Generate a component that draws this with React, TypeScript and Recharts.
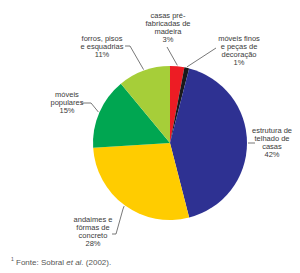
import React from "react";
import { PieChart, Pie, Cell } from "recharts";

const categories = [
  "casas pré-\nfabricadas de\nmadeira",
  "móveis finos\ne peças de\ndecoração",
  "estrutura de\ntelhado de\ncasas",
  "andaimes e\nfôrmas de\nconcreto",
  "móveis\npopulares",
  "forros, pisos\ne esquadrias",
];
const percentages = [3, 1, 42, 28, 15, 11];
const colors = ["#ED1C24", "#1A1A1A", "#2E3192", "#FFCC00", "#00A651", "#A6CE39"];

// label placement relative to pie centre
const labelLayout = [
  { tx: -2, ty: -128, pts: [[-3, -96]] },
  { tx: 69, ty: -105, pts: [[46, -95]] },
  { tx: 102, ty: -13, pts: [[85, 0]] },
  { tx: -77, ty: 76, pts: [[-47, 66], [-54, 91], [-58, 91]] },
  { tx: -103, ty: -49, pts: [[-79, -40], [-89, -40]] },
  { tx: -68, ty: -105, pts: [[-40, -97], [-45, -97]] },
];

const data = categories.map((name, i) => ({ name, value: percentages[i] }));

const RAD = Math.PI / 180;

const renderLabel = (props: any) => {
  const { cx, cy, midAngle, outerRadius, index } = props;
  const lay = labelLayout[index];
  const sx = cx + (outerRadius + 1) * Math.cos(-midAngle * RAD);
  const sy = cy + (outerRadius + 1) * Math.sin(-midAngle * RAD);
  const pts = [[sx, sy], ...lay.pts.map(([dx, dy]) => [cx + dx, cy + dy])];
  const lines = [...data[index].name.split("\n"), `${data[index].value}%`];
  const lh = 8.3;
  return (
    <g key={`lab-${index}`}>
      <polyline
        points={pts.map((p) => p.join(",")).join(" ")}
        fill="none"
        stroke="#555"
        strokeWidth={0.8}
      />
      {lines.map((t, j) => (
        <text
          key={j}
          x={cx + lay.tx}
          y={cy + lay.ty + j * lh}
          textAnchor="middle"
          dominantBaseline="central"
          fontSize={7.5}
          fill="#3a3a3a"
          fontFamily="Liberation Sans, Arial, sans-serif"
        >
          {t}
        </text>
      ))}
    </g>
  );
};

export default function App() {
  return (
    <div style={{ position: "absolute", left: 0, top: 0, width: 300, height: 273, background: "#fff" }}>
      <PieChart width={300} height={273}>
        <Pie
          data={data}
          dataKey="value"
          nameKey="name"
          cx={165}
          cy={138}
          outerRadius={77}
          startAngle={90}
          endAngle={-270}
          stroke="none"
          isAnimationActive={false}
          label={renderLabel}
          labelLine={false}
        >
          {data.map((d, i) => (
            <Cell key={d.name} fill={colors[i]} />
          ))}
        </Pie>
      </PieChart>
      <div
        style={{
          position: "absolute",
          left: 11,
          top: 256,
          fontSize: 8,
          color: "#555",
          fontFamily: "Liberation Sans, Arial, sans-serif",
          whiteSpace: "nowrap",
        }}
      >
        <sup style={{ fontSize: 5 }}>1</sup> Fonte: Sobral <i>et al.</i> (2002).
      </div>
    </div>
  );
}
